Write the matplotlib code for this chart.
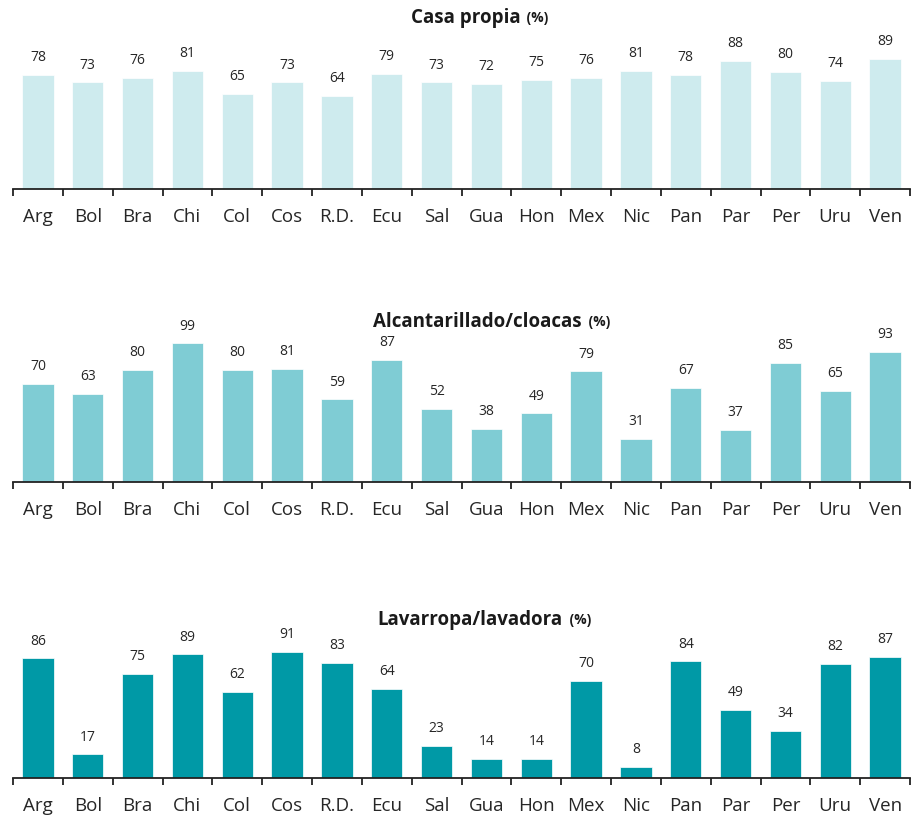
import numpy as np
import matplotlib.pyplot as plt

plt.rcParams['font.family'] = ['Open Sans', 'DejaVu Sans']

paises = ['Arg', 'Bol', 'Bra', 'Chi', 'Col', 'Cos', 'R.D.', 'Ecu', 'Sal',
          'Gua', 'Hon', 'Mex', 'Nic', 'Pan', 'Par', 'Per', 'Uru', 'Ven']

casa_propia = [78, 73, 76, 81, 65, 73, 64, 79, 73, 72, 75, 76, 81, 78, 88, 80, 74, 89]
alcantarillado = [70, 63, 80, 99, 80, 81, 59, 87, 52, 38, 49, 79, 31, 67, 37, 85, 65, 93]
lavarropa = [86, 17, 75, 89, 62, 91, 83, 64, 23, 14, 14, 70, 8, 84, 49, 34, 82, 87]

titulos = ['Casa propia', 'Alcantarillado/cloacas', 'Lavarropa/lavadora']
colores = ['#CEEBEE', '#7FCCD4', '#0099A6']

W, H = 913, 816
fig = plt.figure(figsize=(W / 100, H / 100), dpi=100)

# posiciones en pixeles: (base, altura para 100%, x e y del titulo)
paneles = [(189, 146, 478, 18), (482, 140, 490, 322), (778, 139, 483, 620)]
series = [casa_propia, alcantarillado, lavarropa]

x = np.arange(len(paises))
texto = '#262626'

for (base, alto, xtit, ytit), datos, titulo, color in zip(paneles, series, titulos, colores):
    ax = fig.add_axes([13 / W, 1 - base / H, 897 / W, alto / H])
    ax.bar(x, datos, width=0.63, color=color, edgecolor='white', linewidth=0.5)
    for xi, v in zip(x, datos):
        ax.annotate(str(v), (xi, v), xytext=(0, 7), textcoords='offset points',
                    ha='center', va='bottom', fontsize=10, color=texto)
    ax.set_xlim(-0.5, len(paises) - 0.5)
    ax.set_ylim(0, 100)
    ax.set_yticks([])
    for s in ['top', 'right', 'left']:
        ax.spines[s].set_visible(False)
    ax.spines['bottom'].set_color('#222222')
    ax.spines['bottom'].set_linewidth(1.3)
    ax.set_xticks(np.arange(len(paises) + 1) - 0.5)
    ax.set_xticklabels([])
    ax.tick_params(axis='x', length=5, width=1.3, color='#222222', direction='out')
    ax.set_xticks(x, minor=True)
    ax.set_xticklabels(paises, minor=True, fontsize=13.5, color=texto)
    ax.tick_params(axis='x', which='minor', length=0, pad=14)
    ax.patch.set_alpha(0)

    # titulo: parte en negrita + "(%)" mas chico
    t1 = fig.text(0.5, 1 - ytit / H, titulo, fontsize=13.5, fontweight='bold',
                  color='#1a1a1a', ha='center', va='center')
    t2 = fig.text(0.5, 1 - ytit / H, ' (%)', fontsize=10, fontweight='bold',
                  color='#1a1a1a', ha='left', va='center')
    fig.canvas.draw()
    r = fig.canvas.get_renderer()
    w1 = t1.get_window_extent(r).width
    w2 = t2.get_window_extent(r).width
    x0 = xtit - (w1 + w2) / 2
    t1.set_ha('left')
    t1.set_x(x0 / W)
    t2.set_x((x0 + w1 + 3) / W)

fig.savefig('out.png', dpi=100)
